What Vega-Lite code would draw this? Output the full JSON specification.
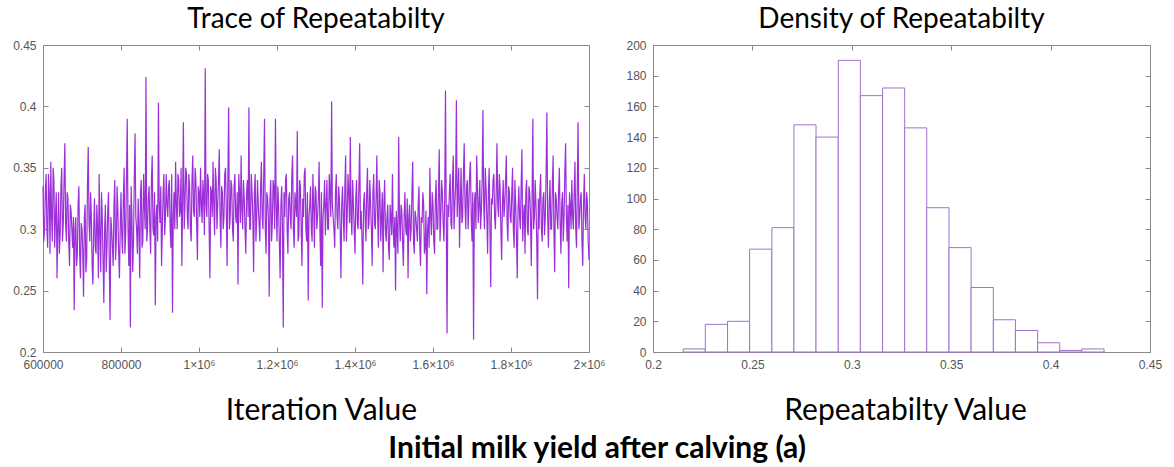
{
  "$schema": "https://vega.github.io/schema/vega-lite/v6.json",
  "background": "white",
  "padding": {"left": 12, "top": 5, "right": 5, "bottom": 0},
  "config": {
    "view": {"stroke": "#8a8a8a", "strokeWidth": 1},
    "axis": {
      "domain": false, "grid": false, "tickColor": "#8a8a8a", "tickSize": -5, "labelFlush": false,
      "labelFont": "Liberation Sans", "labelFontSize": 12, "labelColor": "#555555", "labelPadding": 12,
      "titleFont": "Lato", "titleFontSize": 30, "titleFontWeight": "normal", "titleColor": "black"
    },
    "axisX": {"labelPadding": 12},
    "title": {"font": "Lato", "fontSize": 28, "fontWeight": "normal", "color": "black", "baseline": "top"}
  },
  "title": {"text": "Initial milk yield after calving (a)", "orient": "bottom", "anchor": "middle", "fontWeight": "bold", "fontSize": 30, "dx": 10, "offset": 8},
  "spacing": 19,
  "hconcat": [
    {
      "width": 546, "height": 307,
      "title": {"text": "Trace of Repeatabilty", "offset": 5},
      "data": {"values": [
{"it":600000,"r":0.335},{"it":604000,"r":0.30},{"it":608000,"r":0.345},{"it":612000,"r":0.285},{"it":616000,"r":0.33},{"it":620000,"r":0.355},{"it":624000,"r":0.29},{"it":628000,"r":0.34},{"it":632000,"r":0.31},{"it":636000,"r":0.26},
{"it":640000,"r":0.33},{"it":644000,"r":0.295},{"it":648000,"r":0.35},{"it":652000,"r":0.305},{"it":656000,"r":0.37},{"it":660000,"r":0.29},{"it":664000,"r":0.325},{"it":668000,"r":0.27},{"it":672000,"r":0.315},{"it":676000,"r":0.285},
{"it":680000,"r":0.234},{"it":684000,"r":0.31},{"it":688000,"r":0.28},{"it":692000,"r":0.335},{"it":696000,"r":0.26},{"it":700000,"r":0.30},{"it":704000,"r":0.245},{"it":708000,"r":0.32},{"it":712000,"r":0.275},{"it":716000,"r":0.367},
{"it":720000,"r":0.29},{"it":724000,"r":0.31},{"it":728000,"r":0.255},{"it":732000,"r":0.325},{"it":736000,"r":0.28},{"it":740000,"r":0.30},{"it":744000,"r":0.345},{"it":748000,"r":0.265},{"it":752000,"r":0.31},{"it":756000,"r":0.24},
{"it":760000,"r":0.32},{"it":764000,"r":0.285},{"it":768000,"r":0.33},{"it":772000,"r":0.226},{"it":776000,"r":0.30},{"it":780000,"r":0.27},{"it":784000,"r":0.34},{"it":788000,"r":0.29},{"it":792000,"r":0.315},{"it":796000,"r":0.26},
{"it":800000,"r":0.33},{"it":804000,"r":0.28},{"it":808000,"r":0.35},{"it":812000,"r":0.295},{"it":816000,"r":0.39},{"it":820000,"r":0.27},{"it":824000,"r":0.22},{"it":828000,"r":0.31},{"it":832000,"r":0.29},{"it":836000,"r":0.378},
{"it":840000,"r":0.30},{"it":844000,"r":0.325},{"it":848000,"r":0.26},{"it":852000,"r":0.34},{"it":856000,"r":0.29},{"it":860000,"r":0.32},{"it":864000,"r":0.424},{"it":868000,"r":0.30},{"it":872000,"r":0.335},{"it":876000,"r":0.28},
{"it":880000,"r":0.36},{"it":884000,"r":0.295},{"it":888000,"r":0.238},{"it":892000,"r":0.32},{"it":896000,"r":0.403},{"it":900000,"r":0.305},{"it":904000,"r":0.27},{"it":908000,"r":0.33},{"it":912000,"r":0.295},{"it":916000,"r":0.345},
{"it":920000,"r":0.31},{"it":924000,"r":0.34},{"it":928000,"r":0.285},{"it":932000,"r":0.232},{"it":936000,"r":0.33},{"it":940000,"r":0.355},{"it":944000,"r":0.30},{"it":948000,"r":0.34},{"it":952000,"r":0.315},{"it":956000,"r":0.27},
{"it":960000,"r":0.387},{"it":964000,"r":0.32},{"it":968000,"r":0.345},{"it":972000,"r":0.30},{"it":976000,"r":0.335},{"it":980000,"r":0.29},{"it":984000,"r":0.36},{"it":988000,"r":0.31},{"it":992000,"r":0.34},{"it":996000,"r":0.275},
{"it":1000000,"r":0.33},{"it":1004000,"r":0.35},{"it":1008000,"r":0.305},{"it":1012000,"r":0.325},{"it":1016000,"r":0.431},{"it":1020000,"r":0.31},{"it":1024000,"r":0.34},{"it":1028000,"r":0.26},{"it":1032000,"r":0.33},{"it":1036000,"r":0.355},
{"it":1040000,"r":0.295},{"it":1044000,"r":0.34},{"it":1048000,"r":0.32},{"it":1052000,"r":0.365},{"it":1056000,"r":0.285},{"it":1060000,"r":0.33},{"it":1064000,"r":0.31},{"it":1068000,"r":0.35},{"it":1072000,"r":0.27},{"it":1076000,"r":0.399},
{"it":1080000,"r":0.31},{"it":1084000,"r":0.335},{"it":1088000,"r":0.29},{"it":1092000,"r":0.345},{"it":1096000,"r":0.305},{"it":1100000,"r":0.255},{"it":1104000,"r":0.33},{"it":1108000,"r":0.36},{"it":1112000,"r":0.30},{"it":1116000,"r":0.325},
{"it":1120000,"r":0.28},{"it":1124000,"r":0.34},{"it":1128000,"r":0.399},{"it":1132000,"r":0.30},{"it":1136000,"r":0.33},{"it":1140000,"r":0.265},{"it":1144000,"r":0.345},{"it":1148000,"r":0.31},{"it":1152000,"r":0.32},{"it":1156000,"r":0.29},
{"it":1160000,"r":0.355},{"it":1164000,"r":0.30},{"it":1168000,"r":0.39},{"it":1172000,"r":0.28},{"it":1176000,"r":0.325},{"it":1180000,"r":0.245},{"it":1184000,"r":0.34},{"it":1188000,"r":0.305},{"it":1192000,"r":0.335},{"it":1196000,"r":0.39},
{"it":1200000,"r":0.29},{"it":1204000,"r":0.32},{"it":1208000,"r":0.26},{"it":1212000,"r":0.335},{"it":1216000,"r":0.22},{"it":1220000,"r":0.31},{"it":1224000,"r":0.345},{"it":1228000,"r":0.28},{"it":1232000,"r":0.33},{"it":1236000,"r":0.30},
{"it":1240000,"r":0.36},{"it":1244000,"r":0.285},{"it":1248000,"r":0.32},{"it":1252000,"r":0.38},{"it":1256000,"r":0.295},{"it":1260000,"r":0.335},{"it":1264000,"r":0.27},{"it":1268000,"r":0.31},{"it":1272000,"r":0.35},{"it":1276000,"r":0.29},
{"it":1280000,"r":0.242},{"it":1284000,"r":0.32},{"it":1288000,"r":0.30},{"it":1292000,"r":0.345},{"it":1296000,"r":0.285},{"it":1300000,"r":0.33},{"it":1304000,"r":0.31},{"it":1308000,"r":0.355},{"it":1312000,"r":0.27},{"it":1316000,"r":0.236},
{"it":1320000,"r":0.32},{"it":1324000,"r":0.295},{"it":1328000,"r":0.34},{"it":1332000,"r":0.30},{"it":1336000,"r":0.33},{"it":1340000,"r":0.404},{"it":1344000,"r":0.31},{"it":1348000,"r":0.285},{"it":1352000,"r":0.345},{"it":1356000,"r":0.30},
{"it":1360000,"r":0.325},{"it":1364000,"r":0.26},{"it":1368000,"r":0.335},{"it":1372000,"r":0.29},{"it":1376000,"r":0.36},{"it":1380000,"r":0.31},{"it":1384000,"r":0.33},{"it":1388000,"r":0.375},{"it":1392000,"r":0.295},{"it":1396000,"r":0.32},
{"it":1400000,"r":0.28},{"it":1404000,"r":0.34},{"it":1408000,"r":0.30},{"it":1412000,"r":0.37},{"it":1416000,"r":0.315},{"it":1420000,"r":0.255},{"it":1424000,"r":0.33},{"it":1428000,"r":0.29},{"it":1432000,"r":0.35},{"it":1436000,"r":0.305},
{"it":1440000,"r":0.32},{"it":1444000,"r":0.27},{"it":1448000,"r":0.345},{"it":1452000,"r":0.30},{"it":1456000,"r":0.36},{"it":1460000,"r":0.285},{"it":1464000,"r":0.33},{"it":1468000,"r":0.31},{"it":1472000,"r":0.265},{"it":1476000,"r":0.34},
{"it":1480000,"r":0.29},{"it":1484000,"r":0.32},{"it":1488000,"r":0.275},{"it":1492000,"r":0.31},{"it":1496000,"r":0.345},{"it":1500000,"r":0.285},{"it":1504000,"r":0.25},{"it":1508000,"r":0.30},{"it":1512000,"r":0.375},{"it":1516000,"r":0.29},
{"it":1520000,"r":0.315},{"it":1524000,"r":0.27},{"it":1528000,"r":0.33},{"it":1532000,"r":0.295},{"it":1536000,"r":0.26},{"it":1540000,"r":0.32},{"it":1544000,"r":0.30},{"it":1548000,"r":0.355},{"it":1552000,"r":0.28},{"it":1556000,"r":0.31},
{"it":1560000,"r":0.29},{"it":1564000,"r":0.335},{"it":1568000,"r":0.27},{"it":1572000,"r":0.305},{"it":1576000,"r":0.32},{"it":1580000,"r":0.285},{"it":1584000,"r":0.247},{"it":1588000,"r":0.31},{"it":1592000,"r":0.35},{"it":1596000,"r":0.295},
{"it":1600000,"r":0.32},{"it":1604000,"r":0.28},{"it":1608000,"r":0.34},{"it":1612000,"r":0.30},{"it":1616000,"r":0.365},{"it":1620000,"r":0.31},{"it":1624000,"r":0.33},{"it":1628000,"r":0.29},{"it":1632000,"r":0.413},{"it":1636000,"r":0.215},
{"it":1640000,"r":0.31},{"it":1644000,"r":0.345},{"it":1648000,"r":0.30},{"it":1652000,"r":0.36},{"it":1656000,"r":0.32},{"it":1660000,"r":0.405},{"it":1664000,"r":0.33},{"it":1668000,"r":0.285},{"it":1672000,"r":0.35},{"it":1676000,"r":0.31},
{"it":1680000,"r":0.37},{"it":1684000,"r":0.30},{"it":1688000,"r":0.34},{"it":1692000,"r":0.32},{"it":1696000,"r":0.355},{"it":1700000,"r":0.29},{"it":1704000,"r":0.21},{"it":1708000,"r":0.33},{"it":1712000,"r":0.36},{"it":1716000,"r":0.305},
{"it":1720000,"r":0.34},{"it":1724000,"r":0.315},{"it":1728000,"r":0.397},{"it":1732000,"r":0.30},{"it":1736000,"r":0.335},{"it":1740000,"r":0.28},{"it":1744000,"r":0.35},{"it":1748000,"r":0.253},{"it":1752000,"r":0.32},{"it":1756000,"r":0.345},
{"it":1760000,"r":0.30},{"it":1764000,"r":0.37},{"it":1768000,"r":0.31},{"it":1772000,"r":0.335},{"it":1776000,"r":0.275},{"it":1780000,"r":0.34},{"it":1784000,"r":0.32},{"it":1788000,"r":0.36},{"it":1792000,"r":0.29},{"it":1796000,"r":0.33},
{"it":1800000,"r":0.305},{"it":1804000,"r":0.35},{"it":1808000,"r":0.285},{"it":1812000,"r":0.32},{"it":1816000,"r":0.26},{"it":1820000,"r":0.335},{"it":1824000,"r":0.30},{"it":1828000,"r":0.365},{"it":1832000,"r":0.31},{"it":1836000,"r":0.28},
{"it":1840000,"r":0.34},{"it":1844000,"r":0.295},{"it":1848000,"r":0.33},{"it":1852000,"r":0.27},{"it":1856000,"r":0.39},{"it":1860000,"r":0.31},{"it":1864000,"r":0.32},{"it":1868000,"r":0.243},{"it":1872000,"r":0.30},{"it":1876000,"r":0.345},
{"it":1880000,"r":0.29},{"it":1884000,"r":0.33},{"it":1888000,"r":0.31},{"it":1892000,"r":0.395},{"it":1896000,"r":0.285},{"it":1900000,"r":0.34},{"it":1904000,"r":0.30},{"it":1908000,"r":0.36},{"it":1912000,"r":0.265},{"it":1916000,"r":0.325},
{"it":1920000,"r":0.30},{"it":1924000,"r":0.35},{"it":1928000,"r":0.28},{"it":1932000,"r":0.33},{"it":1936000,"r":0.31},{"it":1940000,"r":0.37},{"it":1944000,"r":0.29},{"it":1948000,"r":0.252},{"it":1952000,"r":0.32},{"it":1956000,"r":0.34},
{"it":1960000,"r":0.30},{"it":1964000,"r":0.355},{"it":1968000,"r":0.285},{"it":1972000,"r":0.387},{"it":1976000,"r":0.31},{"it":1980000,"r":0.33},{"it":1984000,"r":0.27},{"it":1988000,"r":0.345},{"it":1992000,"r":0.30},{"it":1996000,"r":0.32},
{"it":2000000,"r":0.275},
{"it":602000,"r":0.29},{"it":606000,"r":0.33},{"it":610000,"r":0.30},{"it":614000,"r":0.345},{"it":618000,"r":0.28},{"it":622000,"r":0.31},{"it":626000,"r":0.35},{"it":630000,"r":0.285},{"it":634000,"r":0.33},{"it":638000,"r":0.30},
{"it":642000,"r":0.28},{"it":646000,"r":0.335},{"it":650000,"r":0.29},{"it":654000,"r":0.34},{"it":658000,"r":0.305},{"it":662000,"r":0.33},{"it":666000,"r":0.29},{"it":670000,"r":0.32},{"it":674000,"r":0.30},{"it":678000,"r":0.31},
{"it":682000,"r":0.30},{"it":686000,"r":0.27},{"it":690000,"r":0.32},{"it":694000,"r":0.28},{"it":698000,"r":0.305},{"it":702000,"r":0.28},{"it":706000,"r":0.31},{"it":710000,"r":0.265},{"it":714000,"r":0.335},{"it":718000,"r":0.305},
{"it":722000,"r":0.33},{"it":726000,"r":0.27},{"it":730000,"r":0.30},{"it":734000,"r":0.285},{"it":738000,"r":0.32},{"it":742000,"r":0.26},{"it":746000,"r":0.295},{"it":750000,"r":0.33},{"it":754000,"r":0.275},{"it":758000,"r":0.30},
{"it":762000,"r":0.265},{"it":766000,"r":0.315},{"it":770000,"r":0.27},{"it":774000,"r":0.31},{"it":778000,"r":0.285},{"it":782000,"r":0.32},{"it":786000,"r":0.275},{"it":790000,"r":0.335},{"it":794000,"r":0.28},{"it":798000,"r":0.30},
{"it":802000,"r":0.295},{"it":806000,"r":0.325},{"it":810000,"r":0.28},{"it":814000,"r":0.34},{"it":818000,"r":0.30},{"it":822000,"r":0.32},{"it":826000,"r":0.335},{"it":830000,"r":0.265},{"it":834000,"r":0.34},{"it":838000,"r":0.31},
{"it":842000,"r":0.28},{"it":846000,"r":0.30},{"it":850000,"r":0.33},{"it":854000,"r":0.285},{"it":858000,"r":0.345},{"it":862000,"r":0.30},{"it":866000,"r":0.29},{"it":870000,"r":0.325},{"it":874000,"r":0.30},{"it":878000,"r":0.34},
{"it":882000,"r":0.30},{"it":886000,"r":0.33},{"it":890000,"r":0.31},{"it":894000,"r":0.29},{"it":898000,"r":0.32},{"it":902000,"r":0.335},{"it":906000,"r":0.30},{"it":910000,"r":0.345},{"it":914000,"r":0.31},{"it":918000,"r":0.32},
{"it":922000,"r":0.335},{"it":926000,"r":0.30},{"it":930000,"r":0.345},{"it":934000,"r":0.31},{"it":938000,"r":0.30},{"it":942000,"r":0.32},{"it":946000,"r":0.345},{"it":950000,"r":0.31},{"it":954000,"r":0.35},{"it":958000,"r":0.325},
{"it":962000,"r":0.30},{"it":966000,"r":0.35},{"it":970000,"r":0.31},{"it":974000,"r":0.345},{"it":978000,"r":0.30},{"it":982000,"r":0.34},{"it":986000,"r":0.315},{"it":990000,"r":0.35},{"it":994000,"r":0.305},{"it":998000,"r":0.335},
{"it":1002000,"r":0.31},{"it":1006000,"r":0.32},{"it":1010000,"r":0.34},{"it":1014000,"r":0.295},{"it":1018000,"r":0.32},{"it":1022000,"r":0.345},{"it":1026000,"r":0.30},{"it":1030000,"r":0.335},{"it":1034000,"r":0.31},{"it":1038000,"r":0.32},
{"it":1042000,"r":0.35},{"it":1046000,"r":0.30},{"it":1050000,"r":0.34},{"it":1054000,"r":0.31},{"it":1058000,"r":0.335},{"it":1062000,"r":0.30},{"it":1066000,"r":0.345},{"it":1070000,"r":0.315},{"it":1074000,"r":0.34},{"it":1078000,"r":0.30},
{"it":1082000,"r":0.34},{"it":1086000,"r":0.30},{"it":1090000,"r":0.335},{"it":1094000,"r":0.31},{"it":1098000,"r":0.33},{"it":1102000,"r":0.345},{"it":1106000,"r":0.305},{"it":1110000,"r":0.315},{"it":1114000,"r":0.34},{"it":1118000,"r":0.30},
{"it":1122000,"r":0.33},{"it":1126000,"r":0.31},{"it":1130000,"r":0.30},{"it":1134000,"r":0.345},{"it":1138000,"r":0.31},{"it":1142000,"r":0.33},{"it":1146000,"r":0.29},{"it":1150000,"r":0.34},{"it":1154000,"r":0.305},{"it":1158000,"r":0.335},
{"it":1162000,"r":0.31},{"it":1166000,"r":0.345},{"it":1170000,"r":0.30},{"it":1174000,"r":0.33},{"it":1178000,"r":0.31},{"it":1182000,"r":0.325},{"it":1186000,"r":0.29},{"it":1190000,"r":0.34},{"it":1194000,"r":0.30},{"it":1198000,"r":0.32},
{"it":1202000,"r":0.335},{"it":1206000,"r":0.29},{"it":1210000,"r":0.32},{"it":1214000,"r":0.30},{"it":1218000,"r":0.33},{"it":1222000,"r":0.34},{"it":1226000,"r":0.30},{"it":1230000,"r":0.325},{"it":1234000,"r":0.31},{"it":1238000,"r":0.345},
{"it":1242000,"r":0.30},{"it":1246000,"r":0.33},{"it":1250000,"r":0.31},{"it":1254000,"r":0.29},{"it":1258000,"r":0.34},{"it":1262000,"r":0.30},{"it":1266000,"r":0.325},{"it":1270000,"r":0.345},{"it":1274000,"r":0.30},{"it":1278000,"r":0.33},
{"it":1282000,"r":0.31},{"it":1286000,"r":0.335},{"it":1290000,"r":0.29},{"it":1294000,"r":0.32},{"it":1298000,"r":0.335},{"it":1302000,"r":0.30},{"it":1306000,"r":0.325},{"it":1310000,"r":0.30},{"it":1314000,"r":0.33},{"it":1318000,"r":0.31},
{"it":1322000,"r":0.34},{"it":1326000,"r":0.32},{"it":1330000,"r":0.30},{"it":1334000,"r":0.345},{"it":1338000,"r":0.31},{"it":1342000,"r":0.32},{"it":1346000,"r":0.30},{"it":1350000,"r":0.33},{"it":1354000,"r":0.31},{"it":1358000,"r":0.335},
{"it":1362000,"r":0.30},{"it":1366000,"r":0.32},{"it":1370000,"r":0.31},{"it":1374000,"r":0.335},{"it":1378000,"r":0.29},{"it":1382000,"r":0.345},{"it":1386000,"r":0.305},{"it":1390000,"r":0.31},{"it":1394000,"r":0.34},{"it":1398000,"r":0.30},
{"it":1402000,"r":0.325},{"it":1406000,"r":0.305},{"it":1410000,"r":0.335},{"it":1414000,"r":0.30},{"it":1418000,"r":0.29},{"it":1422000,"r":0.32},{"it":1426000,"r":0.31},{"it":1430000,"r":0.33},{"it":1434000,"r":0.30},{"it":1438000,"r":0.34},
{"it":1442000,"r":0.30},{"it":1446000,"r":0.33},{"it":1450000,"r":0.305},{"it":1454000,"r":0.325},{"it":1458000,"r":0.31},{"it":1462000,"r":0.34},{"it":1466000,"r":0.29},{"it":1470000,"r":0.33},{"it":1474000,"r":0.32},{"it":1478000,"r":0.30},
{"it":1482000,"r":0.31},{"it":1486000,"r":0.285},{"it":1490000,"r":0.32},{"it":1494000,"r":0.295},{"it":1498000,"r":0.30},{"it":1502000,"r":0.31},{"it":1506000,"r":0.315},{"it":1510000,"r":0.28},{"it":1514000,"r":0.31},{"it":1518000,"r":0.32},
{"it":1522000,"r":0.29},{"it":1526000,"r":0.31},{"it":1530000,"r":0.30},{"it":1534000,"r":0.325},{"it":1538000,"r":0.31},{"it":1542000,"r":0.29},{"it":1546000,"r":0.33},{"it":1550000,"r":0.29},{"it":1554000,"r":0.315},{"it":1558000,"r":0.30},
{"it":1562000,"r":0.32},{"it":1566000,"r":0.29},{"it":1570000,"r":0.31},{"it":1574000,"r":0.33},{"it":1578000,"r":0.28},{"it":1582000,"r":0.315},{"it":1586000,"r":0.30},{"it":1590000,"r":0.285},{"it":1594000,"r":0.31},{"it":1598000,"r":0.33},
{"it":1602000,"r":0.29},{"it":1606000,"r":0.325},{"it":1610000,"r":0.30},{"it":1614000,"r":0.33},{"it":1618000,"r":0.29},{"it":1622000,"r":0.34},{"it":1626000,"r":0.305},{"it":1630000,"r":0.325},{"it":1634000,"r":0.31},{"it":1638000,"r":0.32},
{"it":1642000,"r":0.33},{"it":1646000,"r":0.305},{"it":1650000,"r":0.34},{"it":1654000,"r":0.30},{"it":1658000,"r":0.335},{"it":1662000,"r":0.31},{"it":1666000,"r":0.35},{"it":1670000,"r":0.32},{"it":1674000,"r":0.305},{"it":1678000,"r":0.345},
{"it":1682000,"r":0.32},{"it":1686000,"r":0.335},{"it":1690000,"r":0.30},{"it":1694000,"r":0.345},{"it":1698000,"r":0.31},{"it":1702000,"r":0.33},{"it":1706000,"r":0.32},{"it":1710000,"r":0.30},{"it":1714000,"r":0.335},{"it":1718000,"r":0.32},
{"it":1722000,"r":0.30},{"it":1726000,"r":0.34},{"it":1730000,"r":0.32},{"it":1734000,"r":0.35},{"it":1738000,"r":0.31},{"it":1742000,"r":0.33},{"it":1746000,"r":0.30},{"it":1750000,"r":0.325},{"it":1754000,"r":0.34},{"it":1758000,"r":0.31},
{"it":1762000,"r":0.33},{"it":1766000,"r":0.32},{"it":1770000,"r":0.345},{"it":1774000,"r":0.30},{"it":1778000,"r":0.32},{"it":1782000,"r":0.31},{"it":1786000,"r":0.34},{"it":1790000,"r":0.305},{"it":1794000,"r":0.335},{"it":1798000,"r":0.31},
{"it":1802000,"r":0.33},{"it":1806000,"r":0.30},{"it":1810000,"r":0.34},{"it":1814000,"r":0.295},{"it":1818000,"r":0.315},{"it":1822000,"r":0.31},{"it":1826000,"r":0.335},{"it":1830000,"r":0.29},{"it":1834000,"r":0.32},{"it":1838000,"r":0.33},
{"it":1842000,"r":0.30},{"it":1846000,"r":0.335},{"it":1850000,"r":0.31},{"it":1854000,"r":0.325},{"it":1858000,"r":0.30},{"it":1862000,"r":0.34},{"it":1866000,"r":0.29},{"it":1870000,"r":0.325},{"it":1874000,"r":0.33},{"it":1878000,"r":0.30},
{"it":1882000,"r":0.325},{"it":1886000,"r":0.295},{"it":1890000,"r":0.345},{"it":1894000,"r":0.31},{"it":1898000,"r":0.32},{"it":1902000,"r":0.30},{"it":1906000,"r":0.335},{"it":1910000,"r":0.30},{"it":1914000,"r":0.33},{"it":1918000,"r":0.31},
{"it":1922000,"r":0.33},{"it":1926000,"r":0.305},{"it":1930000,"r":0.32},{"it":1934000,"r":0.29},{"it":1938000,"r":0.345},{"it":1942000,"r":0.31},{"it":1946000,"r":0.32},{"it":1950000,"r":0.33},{"it":1954000,"r":0.30},{"it":1958000,"r":0.31},
{"it":1962000,"r":0.33},{"it":1966000,"r":0.30},{"it":1970000,"r":0.335},{"it":1974000,"r":0.30},{"it":1978000,"r":0.325},{"it":1982000,"r":0.29},{"it":1986000,"r":0.32},{"it":1990000,"r":0.31},{"it":1994000,"r":0.33},{"it":1998000,"r":0.29}
      ]},
      "layer": [
        {
          "mark": {"type": "line", "color": "#9b30d8", "strokeWidth": 1.2},
          "encoding": {
            "x": {"field": "it", "type": "quantitative",
              "scale": {"domain": [600000, 2000000], "nice": false, "zero": false},
              "axis": {"values": [600000, 800000, 1000000, 1200000, 1400000, 1600000, 1800000, 2000000],
                "labelExpr": "datum.value < 1000000 ? format(datum.value, 'd') : format(datum.value / 1000000, '~g') + '×10⁶'",
                "title": "Iteration Value", "titleX": 278, "titleY": 67, "titleBaseline": "alphabetic"}},
            "y": {"field": "r", "type": "quantitative",
              "scale": {"domain": [0.2, 0.45], "nice": false, "zero": false},
              "axis": {"values": [0.2, 0.25, 0.3, 0.35, 0.4, 0.45], "format": "~g", "title": null}}
          }
        },
        {
          "mark": {"type": "line", "opacity": 0},
          "encoding": {
            "x": {"field": "it", "type": "quantitative", "axis": {"orient": "top", "values": [600000, 800000, 1000000, 1200000, 1400000, 1600000, 1800000, 2000000], "labels": false, "title": null}},
            "y": {"field": "r", "type": "quantitative", "axis": {"orient": "right", "values": [0.2, 0.25, 0.3, 0.35, 0.4, 0.45], "labels": false, "title": null}}
          }
        }
      ],
      "resolve": {"axis": {"x": "independent", "y": "independent"}}
    },
    {
      "width": 497, "height": 307,
      "title": {"text": "Density of Repeatabilty", "offset": 5},
      "data": {"values": [
        {"lo": 0.2152, "hi": 0.2263, "n": 2},
        {"lo": 0.2263, "hi": 0.2375, "n": 18},
        {"lo": 0.2375, "hi": 0.2486, "n": 20},
        {"lo": 0.2486, "hi": 0.2598, "n": 67},
        {"lo": 0.2598, "hi": 0.2709, "n": 81},
        {"lo": 0.2709, "hi": 0.2820, "n": 148},
        {"lo": 0.2820, "hi": 0.2932, "n": 140},
        {"lo": 0.2932, "hi": 0.3043, "n": 190},
        {"lo": 0.3043, "hi": 0.3155, "n": 167},
        {"lo": 0.3155, "hi": 0.3266, "n": 172},
        {"lo": 0.3266, "hi": 0.3377, "n": 146},
        {"lo": 0.3377, "hi": 0.3489, "n": 94},
        {"lo": 0.3489, "hi": 0.3600, "n": 68},
        {"lo": 0.3600, "hi": 0.3712, "n": 42},
        {"lo": 0.3712, "hi": 0.3823, "n": 21},
        {"lo": 0.3823, "hi": 0.3935, "n": 14},
        {"lo": 0.3935, "hi": 0.4046, "n": 6},
        {"lo": 0.4046, "hi": 0.4157, "n": 1},
        {"lo": 0.4157, "hi": 0.4269, "n": 2}
      ]},
      "layer": [
        {
          "mark": {"type": "rect", "fill": "white", "stroke": "#9d72cc", "strokeWidth": 1},
          "encoding": {
            "x": {"field": "lo", "type": "quantitative",
              "scale": {"domain": [0.2, 0.45], "nice": false, "zero": false},
              "axis": {"values": [0.2, 0.25, 0.3, 0.35, 0.4, 0.45], "format": "~g",
                "title": "Repeatabilty Value", "titleX": 252, "titleY": 67, "titleBaseline": "alphabetic"}},
            "x2": {"field": "hi"},
            "y": {"field": "n", "type": "quantitative",
              "scale": {"domain": [0, 200], "nice": false},
              "axis": {"values": [0, 20, 40, 60, 80, 100, 120, 140, 160, 180, 200], "title": null}},
            "y2": {"datum": 0}
          }
        },
        {
          "mark": {"type": "rect", "opacity": 0},
          "encoding": {
            "x": {"field": "lo", "type": "quantitative", "axis": {"orient": "top", "values": [0.2, 0.25, 0.3, 0.35, 0.4, 0.45], "labels": false, "title": null}},
            "x2": {"field": "hi"},
            "y": {"field": "n", "type": "quantitative", "axis": {"orient": "right", "values": [0, 20, 40, 60, 80, 100, 120, 140, 160, 180, 200], "labels": false, "title": null}},
            "y2": {"datum": 0}
          }
        }
      ],
      "resolve": {"axis": {"x": "independent", "y": "independent"}}
    }
  ]
}
